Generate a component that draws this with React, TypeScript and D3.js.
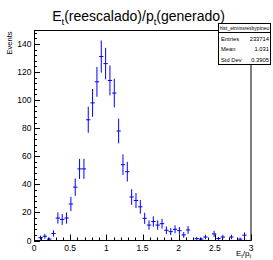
import React from "react";
import * as d3 from "d3";

// histogram: 50 bins of width 0.06 on [0, 3]
const binCenters = [
  0.03, 0.09, 0.15, 0.21, 0.27, 0.33, 0.39, 0.45, 0.51, 0.57,
  0.63, 0.69, 0.75, 0.81, 0.87, 0.93, 0.99, 1.05, 1.11, 1.17,
  1.23, 1.29, 1.35, 1.41, 1.47, 1.53, 1.59, 1.65, 1.71, 1.77,
  1.83, 1.89, 1.95, 2.01, 2.07, 2.13, 2.19, 2.25, 2.31, 2.37,
  2.43, 2.49, 2.55, 2.61, 2.67, 2.73, 2.79, 2.85, 2.91, 2.97,
];
const binWidth = 0.06;
const counts = [
  0, 2, 3, 1, 5, 16, 15, 16, 26, 38,
  51, 51, 86, 98, 113, 131, 126, 114, 105, 78,
  54, 49, 31, 28.5, 24, 15.8, 11, 13.5, 11, 12,
  7.3, 6.3, 8, 7, 4, 7.5, 0, 1.3, 1, 2.5,
  0, 4.7, 1.4, 2.5, 0, 2.5, 0, 1, 3.8, 0,
];

const xTickLabels = [0, 0.5, 1, 1.5, 2, 2.5, 3];
const yTickLabels = [0, 20, 40, 60, 80, 100, 120, 140];

const histName = "hist_etmissresbyptneu";
const statLabels = ["Entries", "Mean", "Std Dev"];
const statValues = ["233714", "1.031", "0.3905"];

const W = 273;
const H = 260;
const font = "'Liberation Sans', Arial, Helvetica, sans-serif";
const blue = "#0000ff";

export default function App() {
  const left = 34, right = 251, top = 30.5, bottom = 240.5;

  const errs = counts.map((c) => Math.sqrt(c));
  const ymax = d3.max(counts, (c, i) => c + errs[i]) * 1.05;

  const x = d3.scaleLinear().domain([0, 3]).range([left, right]);
  const y = d3.scaleLinear().domain([0, ymax]).range([bottom, top]);

  const xMinor = d3.range(0, 3.0001, 0.1);
  const yMinor = d3.range(0, ymax, 4);

  const crisp = (v: number) => Math.round(v) + 0.5;

  return (
    <svg
      width={W}
      height={H}
      style={{ position: "absolute", left: 0, top: 0, background: "#fff" }}
      fontFamily={font}
    >
      <rect width={W} height={H} fill="#fff" />

      {/* title */}
      <text x={138.5} y={20.5} textAnchor="middle" fontSize={14}>
        E<tspan fontSize={9.5} dy={4}>t</tspan>
        <tspan dy={-4}>(reescalado)/p</tspan>
        <tspan fontSize={9.5} dy={4}>t</tspan>
        <tspan dy={-4}>(generado)</tspan>
      </text>

      {/* histogram points */}
      <g stroke={blue} strokeWidth={1}>
        {counts.map((c, i) => {
          if (c === 0) return null;
          const cx = x(binCenters[i]);
          const cy = y(c);
          return (
            <g key={i}>
              <line x1={cx} x2={cx} y1={y(c + errs[i])} y2={y(Math.max(0, c - errs[i]))} />
              <line
                x1={x(binCenters[i] - binWidth / 2)}
                x2={x(binCenters[i] + binWidth / 2)}
                y1={cy}
                y2={cy}
              />
            </g>
          );
        })}
      </g>

      {/* frame */}
      <rect
        x={left + 0.5}
        y={top}
        width={right - left - 0.5}
        height={bottom - top}
        fill="none"
        stroke="#000"
        strokeWidth={1}
      />

      {/* x ticks */}
      <g stroke="#000" strokeWidth={1}>
        {xMinor.map((v, i) => {
          const major = i % 5 === 0;
          const px = crisp(x(v));
          return (
            <line key={i} x1={px} x2={px} y1={bottom} y2={bottom - (major ? 6 : 3)} />
          );
        })}
      </g>
      <g fontSize={8.5} textAnchor="middle">
        {xTickLabels.map((v) => (
          <text key={v} x={x(v)} y={250.5}>
            {String(v)}
          </text>
        ))}
      </g>

      {/* y ticks */}
      <g stroke="#000" strokeWidth={1}>
        {yMinor.map((v, i) => {
          const major = i % 5 === 0;
          const py = crisp(y(v));
          return (
            <line key={i} x1={left} x2={left + (major ? 6 : 3)} y1={py} y2={py} />
          );
        })}
      </g>
      <g fontSize={8.5} textAnchor="end">
        {yTickLabels.map((v) => (
          <text key={v} x={31.5} y={y(v) + 3}>
            {String(v)}
          </text>
        ))}
      </g>

      {/* axis titles */}
      <text
        transform={`translate(11.5, ${top + 1}) rotate(-90)`}
        textAnchor="end"
        fontSize={7.5}
      >
        Events
      </text>
      <text x={right} y={256} textAnchor="end" fontSize={8}>
        E<tspan fontSize={5.5} dy={2}>t</tspan>
        <tspan dy={-2}>/p</tspan>
        <tspan fontSize={5.5} dy={2}>t</tspan>
      </text>

      {/* stats box */}
      <g>
        <rect x={218.5} y={23.5} width={52} height={41} fill="#fff" stroke="#000" strokeWidth={1} />
        <line x1={218.5} x2={270.5} y1={32.5} y2={32.5} stroke="#000" strokeWidth={1} />
        <text x={244.5} y={30} textAnchor="middle" fontSize={5}>
          {histName}
        </text>
        {statLabels.map((s, i) => (
          <g key={s} fontSize={5.8}>
            <text x={221} y={41 + i * 10.3}>
              {s}
            </text>
            <text x={269} y={41 + i * 10.3} textAnchor="end">
              {statValues[i]}
            </text>
          </g>
        ))}
      </g>
    </svg>
  );
}
